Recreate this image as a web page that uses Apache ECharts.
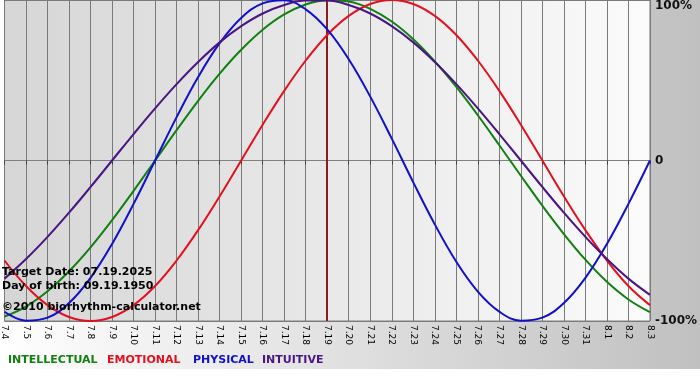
<!DOCTYPE html>
<html>
<head>
<meta charset="utf-8">
<script src="https://cdn.jsdelivr.net/npm/echarts@6/dist/echarts.min.js"></script>
<style>
  html, body { margin: 0; padding: 0; background: #fff; }
  #chart {
    width: 700px; height: 380px;
    background: linear-gradient(to right, #ffffff, #c0c0c0) no-repeat;
    background-size: 700px 369px;
  }
</style>
</head>
<body>
<div id="chart"></div>
<script>
// Day labels (month.day)
const days = ['7.4','7.5','7.6','7.7','7.8','7.9','7.10','7.11','7.12','7.13','7.14','7.15','7.16','7.17','7.18','7.19','7.20','7.21','7.22','7.23','7.24','7.25','7.26','7.27','7.28','7.29','7.30','7.31','8.1','8.2','8.3'];
const targetDay = '7.19';

// Cycle values (fraction of 100%)
const intellectual = [-0.972,-0.910,-0.815,-0.690,-0.541,-0.372,-0.189,0,0.189,0.372,0.541,0.690,0.815,0.910,0.972,0.999,0.990,0.945,0.866,0.756,0.618,0.458,0.282,0.095,-0.095,-0.282,-0.458,-0.618,-0.756,-0.866,-0.945];
const emotional = [-0.623,-0.782,-0.901,-0.975,-1,-0.975,-0.901,-0.782,-0.623,-0.434,-0.223,0,0.223,0.434,0.623,0.782,0.901,0.975,1,0.975,0.901,0.782,0.623,0.434,0.223,0,-0.223,-0.434,-0.623,-0.782,-0.901];
const physical = [-0.942,-0.998,-0.979,-0.888,-0.731,-0.520,-0.270,0,0.270,0.520,0.731,0.888,0.979,0.998,0.942,0.817,0.631,0.398,0.136,-0.136,-0.398,-0.631,-0.817,-0.942,-0.998,-0.979,-0.888,-0.731,-0.520,-0.270,0];
const intuitive = [-0.736,-0.614,-0.476,-0.325,-0.165,0,0.165,0.325,0.476,0.614,0.736,0.837,0.916,0.969,0.997,0.997,0.969,0.916,0.837,0.736,0.614,0.476,0.325,0.165,0,-0.165,-0.325,-0.476,-0.614,-0.736,-0.837];

// Y tick labels for -1, 0, 1
const yTickLabels = {'-1': '-100%', '0': '0', '1': '100%'};

const seriesNames = ['INTELLECTUAL', 'EMOTIONAL', 'PHYSICAL', 'INTUITIVE'];
const seriesColors = ['#118011', '#e3101e', '#1010cc', '#4a1582'];
const seriesData = [intellectual, emotional, physical, intuitive];
const legendLeft = [8, 107, 193, 262];

const infoLines = ['Target Date: 07.19.2025', 'Day of birth: 09.19.1950', '\u00a92010 biorhythm-calculator.net'];

const chart = echarts.init(document.getElementById('chart'), null, {renderer: 'canvas'});

const series = seriesNames.map((name, i) => ({
  name: name,
  type: 'line',
  data: seriesData[i],
  smooth: 0.4,
  showSymbol: false,
  symbol: 'none',
  lineStyle: {color: seriesColors[i], width: 2},
  itemStyle: {color: seriesColors[i]},
  z: 3 + i
}));
series[0].markLine = {
  silent: true,
  symbol: ['none', 'none'],
  label: {show: false},
  lineStyle: {color: '#8b1c1c', width: 2, type: 'solid'},
  data: [{xAxis: targetDay}],
  z: 2
};

chart.setOption({
  animation: false,
  backgroundColor: 'transparent',
  grid: {
    left: 0, right: 49, top: 0, bottom: 59,
    show: true,
    borderColor: '#808080',
    borderWidth: 1,
    backgroundColor: {
      type: 'linear', x: 0, y: 0, x2: 1, y2: 0,
      colorStops: [{offset: 0, color: '#d6d6d6'}, {offset: 1, color: '#fbfbfb'}]
    }
  },
  xAxis: {
    type: 'category',
    data: days,
    boundaryGap: false,
    axisLine: {show: true, lineStyle: {color: '#808080', width: 1}},
    axisTick: {show: true, length: 4, interval: 0, lineStyle: {color: '#404040'}},
    splitLine: {show: true, interval: 0, lineStyle: {color: '#7a7a7a', width: 1}},
    axisLabel: {
      interval: 0, rotate: -90, margin: 4,
      fontFamily: '"DejaVu Sans"', fontSize: 9, color: '#000'
    }
  },
  yAxis: {
    type: 'value',
    position: 'right',
    min: -1, max: 1, interval: 1,
    axisLine: {show: false},
    axisTick: {show: false},
    splitLine: {show: true, lineStyle: {color: '#7a7a7a', width: 1}},
    axisLabel: {
      margin: 5,
      fontFamily: '"DejaVu Sans"', fontSize: 12, fontWeight: 'bold', color: '#111',
      verticalAlignMaxLabel: 'top',
      formatter: v => yTickLabels[String(v)]
    }
  },
  legend: seriesNames.map((name, i) => ({
    left: legendLeft[i] - 5,
    top: 355,
    itemWidth: 0, itemHeight: 0, itemGap: 0,
    padding: 0,
    selectedMode: false,
    data: [{name: name, icon: 'rect', textStyle: {color: seriesColors[i]}}],
    textStyle: {fontFamily: '"DejaVu Sans"', fontSize: 11, fontWeight: 'bold', color: seriesColors[i]}
  })),
  graphic: infoLines.map((t, i) => ({
    type: 'text',
    left: 2,
    top: [267, 281, 302][i],
    z: 100,
    style: {text: t, font: 'bold 11px "DejaVu Sans"', fill: '#000'}
  })),
  series: series
});
</script>
</body>
</html>
